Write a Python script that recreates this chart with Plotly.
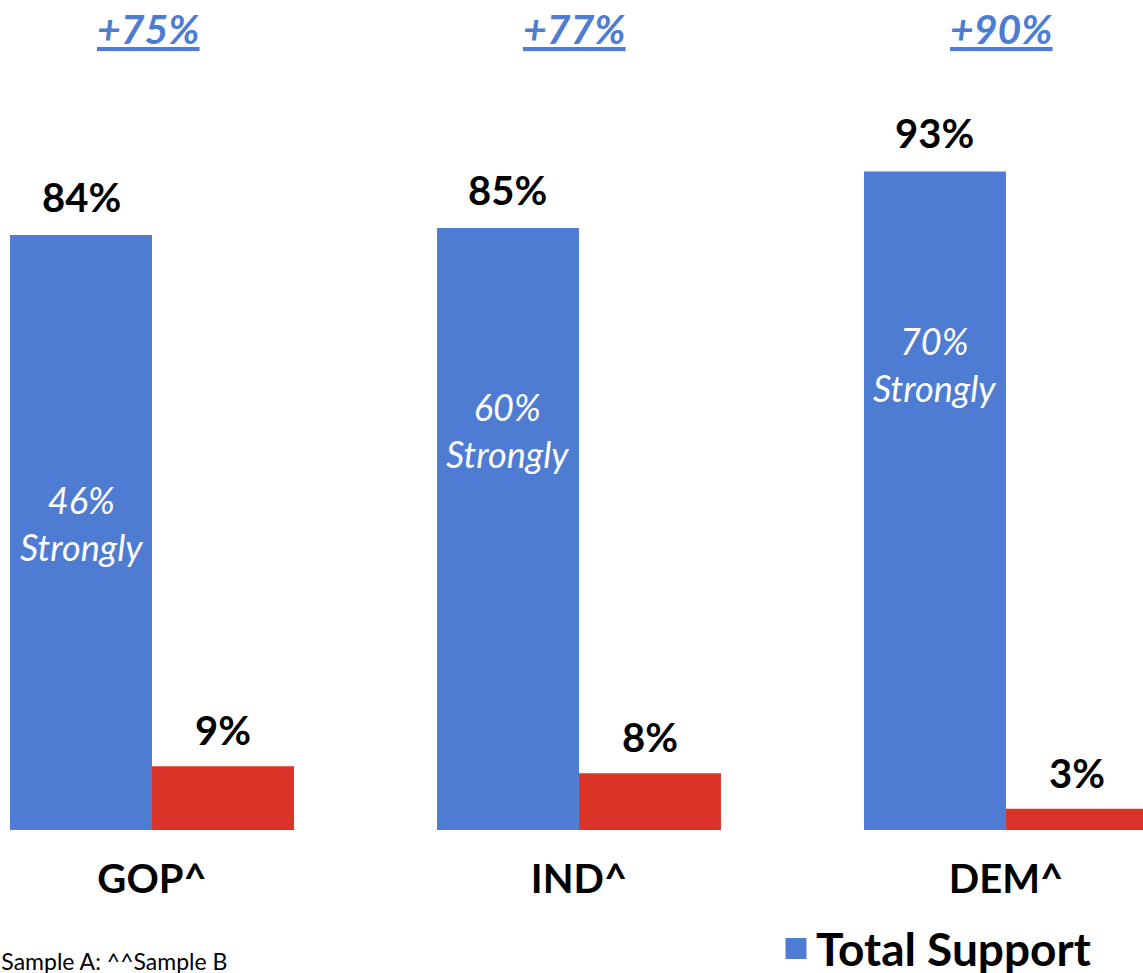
import plotly.graph_objects as go

# ---- data ----
categories = ["GOP^", "IND^", "DEM^"]
total_support = [84, 85, 93]
total_oppose = [9, 8, 3]
strongly_support = [46, 60, 70]
net_labels = ["+75%", "+77%", "+90%"]
series_names = ["Total Support", "Total Oppose"]
footnote = "^Sample A: ^^Sample B"

# ---- style ----
BLUE = "#4E7CD3"
RED = "#DC3328"
FONT = "Lato"
W, H = 1143, 973
M_B = 143
PLOT_H = H - M_B
Y_MAX = 117.2
X_RANGE = [-0.356, 2.321]
BARGAP = 0.335
cat_px = W / (X_RANGE[1] - X_RANGE[0])
bar_px = cat_px * (1 - BARGAP) / 2

fig = go.Figure()
fig.add_trace(go.Bar(x=categories, y=total_support, name=series_names[0],
                     marker=dict(color=BLUE, line=dict(width=0)), showlegend=False))
fig.add_trace(go.Bar(x=categories, y=total_oppose, name=series_names[1],
                     marker=dict(color=RED, line=dict(width=0)), showlegend=False))

# legend entries (larger square swatches)
for name, col in zip(series_names, [BLUE, RED]):
    fig.add_trace(go.Scatter(x=[None], y=[None], mode="markers", name=name,
                             marker=dict(symbol="square", size=16, color=col,
                                         line=dict(color=col, width=5))))

annotations = []
for cat, v in zip(categories, total_support):
    annotations.append(dict(x=cat, y=v, xref="x", yref="y", text=f"<b>{v}%</b>",
                            showarrow=False, yanchor="bottom", xshift=-bar_px / 2, yshift=12,
                            font=dict(family=FONT, size=40, color="black")))
for cat, v in zip(categories, total_oppose):
    annotations.append(dict(x=cat, y=v, xref="x", yref="y", text=f"<b>{v}%</b>",
                            showarrow=False, yanchor="bottom", xshift=bar_px / 2, yshift=10,
                            font=dict(family=FONT, size=40, color="black")))
for cat, s in zip(categories, strongly_support):
    annotations.append(dict(x=cat, y=s * 0.94, xref="x", yref="y",
                            text=f"<i>{s}%<br>Strongly</i>",
                            showarrow=False, yanchor="middle", xshift=-bar_px / 2,
                            font=dict(family=FONT, size=36, color="white")))
for cat, lab in zip(categories, net_labels):
    annotations.append(dict(x=cat, y=(PLOT_H - 28) / PLOT_H, xref="x", yref="paper",
                            text=f"<b><i><u>{lab}</u></i></b>",
                            showarrow=False, yanchor="middle", xshift=-4,
                            font=dict(family=FONT, size=41, color=BLUE)))
annotations.append(dict(x=229 / W, y=(PLOT_H - 961) / PLOT_H, xref="paper", yref="paper",
                        text=footnote, showarrow=False, xanchor="right", yanchor="middle",
                        font=dict(family=FONT, size=23, color="black")))

fig.update_layout(
    width=W, height=H,
    margin=dict(l=0, r=0, t=0, b=M_B, autoexpand=False),
    paper_bgcolor="white", plot_bgcolor="white",
    barmode="group", bargap=BARGAP, bargroupgap=0,
    xaxis=dict(range=X_RANGE, showgrid=False, zeroline=False, showline=False,
               ticks="", ticklabelstandoff=22,
               tickfont=dict(family=FONT, size=40, color="black", weight="bold")),
    yaxis=dict(range=[0, Y_MAX], visible=False),
    legend=dict(x=776 / W, y=(PLOT_H - 912) / PLOT_H, xanchor="left", yanchor="top",
                xref="paper", yref="paper", orientation="v",
                font=dict(family=FONT, size=46, color="black", weight="bold"),
                bgcolor="rgba(0,0,0,0)", itemwidth=30),
    annotations=annotations,
    showlegend=True,
)

fig.write_html("out.html", post_script="document.body.style.margin='0';",
               config={"displayModeBar": False})
